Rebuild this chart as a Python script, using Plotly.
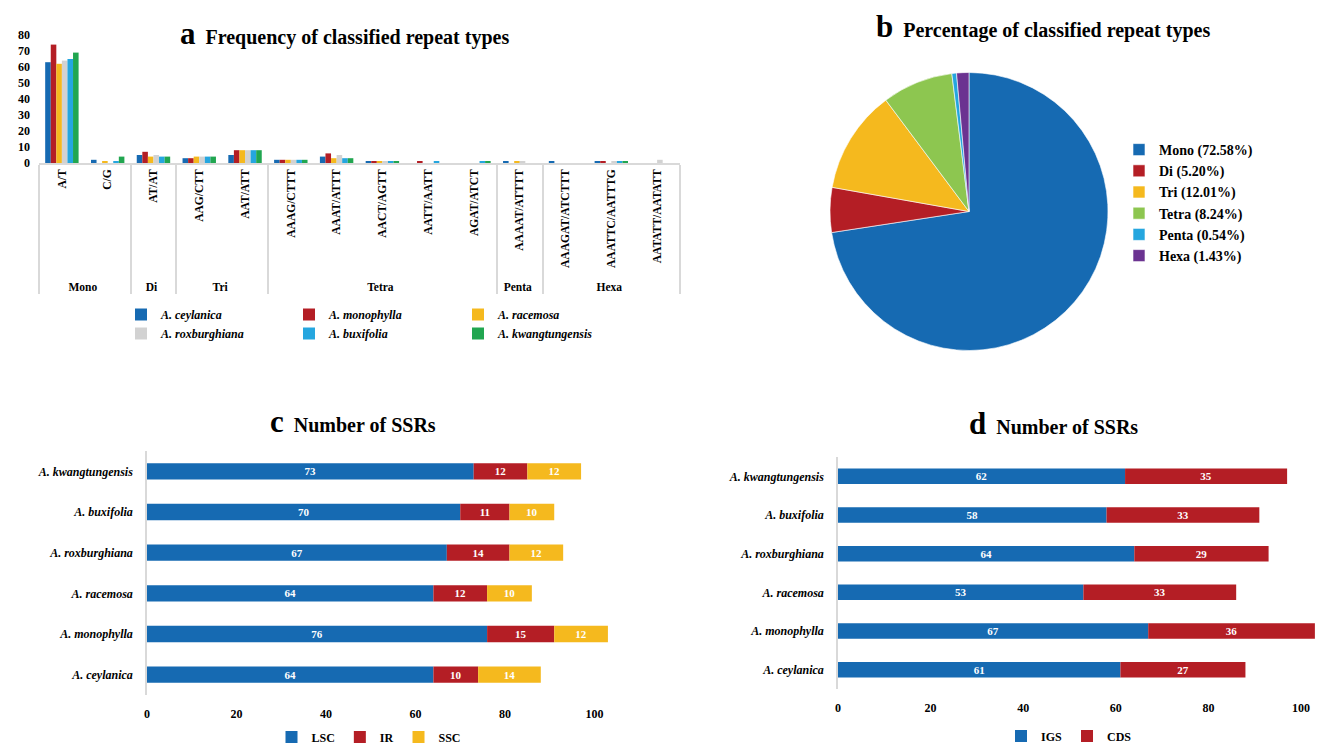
import plotly.graph_objects as go

# ---- data -------------------------------------------------------------
species = ["A. ceylanica", "A. monophylla", "A. racemosa",
           "A. roxburghiana", "A. buxifolia", "A. kwangtungensis"]
species_colors = ["#166AB2", "#B41E25", "#F5B91E", "#D2D2D2", "#25A6DF", "#21A650"]

repeat_groups = ["Mono", "Mono", "Di", "Tri", "Tri",
                 "Tetra", "Tetra", "Tetra", "Tetra", "Tetra",
                 "Penta", "Hexa", "Hexa", "Hexa"]
repeat_types = ["A/T", "C/G", "AT/AT", "AAG/CTT", "AAT/ATT",
                "AAAG/CTTT", "AAAT/ATTT", "AACT/AGTT", "AATT/AATT", "AGAT/ATCT",
                "AAAAT/ATTTT", "AAAGAT/ATCTTT", "AAATTC/AATTTG", "AATATT/AATATT"]

freq_ceylanica = [63, 2, 5, 3, 5, 2, 4, 1, 0, 0, 1, 1, 1, 0]
freq_monophylla = [74, 0, 7, 3, 8, 2, 6, 1, 1, 0, 0, 0, 1, 0]
freq_racemosa = [62, 1, 4, 4, 8, 2, 3, 1, 0, 0, 1, 0, 0, 0]
freq_roxburghiana = [64, 0, 5, 4, 8, 2, 5, 1, 0, 0, 1, 0, 1, 2]
freq_buxifolia = [65, 1, 4, 4, 8, 2, 3, 1, 1, 1, 0, 0, 1, 0]
freq_kwangtungensis = [69, 4, 4, 4, 8, 2, 3, 1, 0, 1, 0, 0, 1, 0]

pie_labels = ["Mono", "Di", "Tri", "Tetra", "Penta", "Hexa"]
pie_percent = [72.58, 5.20, 12.01, 8.24, 0.54, 1.43]
pie_colors = ["#166AB2", "#B41E25", "#F5B91E", "#8DC650", "#25A6DF", "#6B3391"]

ssr_species = ["A. ceylanica", "A. monophylla", "A. racemosa",
               "A. roxburghiana", "A. buxifolia", "A. kwangtungensis"]
ssr_lsc = [64, 76, 64, 67, 70, 73]
ssr_ir = [10, 15, 12, 14, 11, 12]
ssr_ssc = [14, 12, 10, 12, 10, 12]
ssr_igs = [61, 67, 53, 64, 58, 62]
ssr_cds = [27, 36, 33, 29, 33, 35]

# ---- styling ----------------------------------------------------------
SERIF = "Liberation Serif"
W, H = 1320, 746
BLUE, RED, YELLOW = "#166AB2", "#B41E25", "#F5B91E"
AXIS_GREY = "#D9D9D9"


def px_x(p):
    return p / W


def px_y(p):
    return 1 - p / H


fig = go.Figure()

# ---- panel a: grouped bars on a two-level category axis --------------
freq_series = [freq_ceylanica, freq_monophylla, freq_racemosa,
               freq_roxburghiana, freq_buxifolia, freq_kwangtungensis]
legend_for = ["legend", "legend2", "legend3", "legend", "legend2", "legend3"]
for name, vals, col, lg in zip(species, freq_series, species_colors, legend_for):
    fig.add_trace(go.Bar(
        x=[repeat_groups, repeat_types], y=vals, name=name,
        marker=dict(color=col, line=dict(width=0)),
        xaxis="x", yaxis="y", legend=lg,
    ))

# ---- panel b: pie -----------------------------------------------------
fig.add_trace(go.Pie(
    labels=[f"{l} ({v:.2f}%)" for l, v in zip(pie_labels, pie_percent)],
    values=pie_percent, sort=False, direction="clockwise", rotation=0,
    marker=dict(colors=pie_colors, line=dict(color="white", width=0.6)),
    textinfo="none", hoverinfo="label",
    domain=dict(x=[px_x(830), px_x(1108)], y=[px_y(351), px_y(72)]),
    legend="legend4",
))


# ---- stacked horizontal bars (panels c and d) ------------------------
def add_stacked(series, xa, ya, legend_id, group):
    base = [0] * len(ssr_species)
    for name, vals, col in series:
        fig.add_trace(go.Bar(
            y=ssr_species, x=vals, base=list(base), name=name, orientation="h",
            offsetgroup=group, width=0.4,
            marker=dict(color=col, line=dict(width=0)),
            text=vals, textposition="inside", insidetextanchor="middle",
            textangle=0, constraintext="none",
            textfont=dict(family=SERIF, size=11, color="white", weight="bold"),
            xaxis=xa, yaxis=ya, legend=legend_id,
        ))
        base = [b + v for b, v in zip(base, vals)]


add_stacked([("LSC", ssr_lsc, BLUE), ("IR", ssr_ir, RED), ("SSC", ssr_ssc, YELLOW)],
            "x2", "y2", "legend5", "c")
add_stacked([("IGS", ssr_igs, BLUE), ("CDS", ssr_cds, RED)],
            "x3", "y3", "legend6", "d")

tick_font = dict(family=SERIF, size=12, color="black", weight="bold")
cat_font = dict(family=SERIF, size=11.5, color="black", weight="bold")
species_font = dict(family=SERIF, size=12, color="black", weight="bold", style="italic")
legend_font = dict(family=SERIF, size=12, color="black", weight="bold", style="italic")
legend_font_plain = dict(family=SERIF, size=12, color="black", weight="bold")

fig.update_layout(
    width=W, height=H,
    margin=dict(l=0, r=0, t=0, b=0, autoexpand=False),
    paper_bgcolor="white", plot_bgcolor="white",
    barmode="group", bargap=0.27, bargroupgap=0,
    font=dict(family=SERIF, color="black"),
    xaxis=dict(
        domain=[px_x(39), px_x(680)], anchor="y", type="multicategory",
        tickangle=-90, tickfont=cat_font, showgrid=False,
        showline=True, linecolor=AXIS_GREY, linewidth=1.5,
        showdividers=True, dividercolor=AXIS_GREY, dividerwidth=1.5,
        ticks="",
    ),
    yaxis=dict(
        domain=[px_y(163), px_y(35)], anchor="x", range=[0, 80], dtick=10,
        showgrid=False, zeroline=False, showline=False, ticks="",
        tickfont=tick_font, ticklabelstandoff=8,
    ),
    xaxis2=dict(
        domain=[px_x(147), px_x(147 + 4.475 * 103.5)], anchor="y2",
        range=[0, 103.5], tickvals=[0, 20, 40, 60, 80, 100],
        showgrid=False, zeroline=False, showline=False, ticks="",
        tickfont=tick_font, ticklabelstandoff=10,
    ),
    yaxis2=dict(
        domain=[px_y(695), px_y(451)], anchor="x2",
        categoryorder="array", categoryarray=ssr_species,
        showgrid=False, showline=True, linecolor=AXIS_GREY, linewidth=1.5,
        ticks="", tickfont=species_font, ticklabelstandoff=10,
    ),
    xaxis3=dict(
        domain=[px_x(838), px_x(838 + 4.63 * 103.5)], anchor="y3",
        range=[0, 103.5], tickvals=[0, 20, 40, 60, 80, 100],
        showgrid=False, zeroline=False, showline=False, ticks="",
        tickfont=tick_font, ticklabelstandoff=10,
    ),
    yaxis3=dict(
        domain=[px_y(689), px_y(457)], anchor="x3",
        categoryorder="array", categoryarray=ssr_species,
        showgrid=False, showline=True, linecolor=AXIS_GREY, linewidth=1.5,
        ticks="", tickfont=species_font, ticklabelstandoff=10,
    ),
    legend=dict(x=px_x(121), y=px_y(300), xanchor="left", yanchor="top",
                font=legend_font, bgcolor="rgba(0,0,0,0)", traceorder="normal"),
    legend2=dict(x=px_x(289), y=px_y(300), xanchor="left", yanchor="top",
                 font=legend_font, bgcolor="rgba(0,0,0,0)", traceorder="normal"),
    legend3=dict(x=px_x(458), y=px_y(300), xanchor="left", yanchor="top",
                 font=legend_font, bgcolor="rgba(0,0,0,0)", traceorder="normal"),
    legend4=dict(x=px_x(1119), y=px_y(203), xanchor="left", yanchor="middle",
                 font=dict(family=SERIF, size=14, color="black", weight="bold"),
                 bgcolor="rgba(0,0,0,0)", traceorder="normal"),
    legend5=dict(x=px_x(369), y=px_y(737), xanchor="center", yanchor="middle",
                 orientation="h", font=legend_font_plain, bgcolor="rgba(0,0,0,0)",
                 traceorder="normal"),
    legend6=dict(x=px_x(1069), y=px_y(736), xanchor="center", yanchor="middle",
                 orientation="h", font=legend_font_plain, bgcolor="rgba(0,0,0,0)",
                 traceorder="normal"),
    showlegend=True,
)


def panel_title(letter, text, cx, cy):
    fig.add_annotation(
        x=px_x(cx), y=px_y(cy), xref="paper", yref="paper",
        xanchor="center", yanchor="middle", showarrow=False,
        text=f"<span style='font-size:31px'>{letter}</span>  {text}",
        font=dict(family=SERIF, size=20, color="black", weight="bold"),
    )


panel_title("a", "Frequency of classified repeat types", 344, 33)
panel_title("b", "Percentage of classified repeat types", 1043, 26)
panel_title("c", "Number of SSRs", 353, 421)
panel_title("d", "Number of SSRs", 1053, 423)

fig.write_html("out.html")
